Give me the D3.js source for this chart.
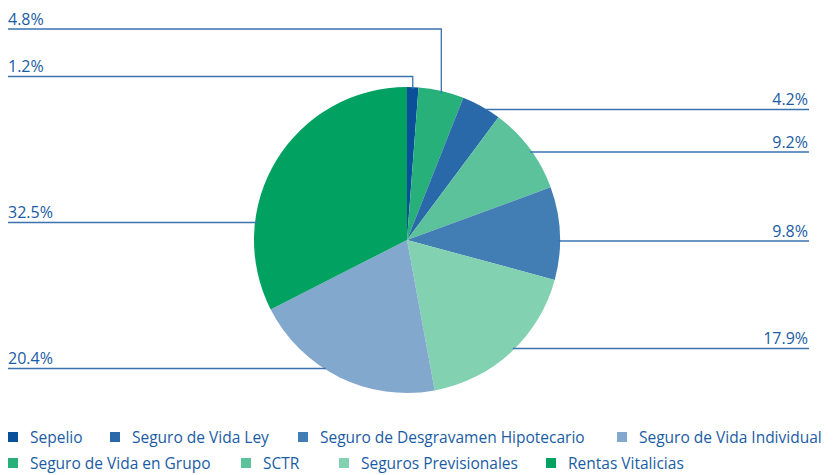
<!DOCTYPE html>
<html>
<head>
<meta charset="utf-8">
<script src="https://cdn.jsdelivr.net/npm/d3@7"></script>
<style>
  body { margin: 0; background: #fff; }
  text { font-family: "Open Sans", "Noto Sans", sans-serif; fill: #1a5ca4; }
</style>
</head>
<body>
<div id="chart"></div>
<script>
// legend order
var categories = ["Sepelio", "Seguro de Vida Ley", "Seguro de Desgravamen Hipotecario",
                  "Seguro de Vida Individual", "Seguro de Vida en Grupo", "SCTR",
                  "Seguros Previsionales", "Rentas Vitalicias"];
var shares = [1.2, 4.2, 9.8, 20.4, 4.8, 9.2, 17.9, 32.5];
var colors = ["#0a4f99", "#2a69a9", "#427db4", "#83a8cd", "#28b07b", "#5bc29b", "#82d1b1", "#00a161"];
// clockwise order of the slices from 12 o'clock
var sliceOrder = ["Sepelio", "Seguro de Vida en Grupo", "Seguro de Vida Ley", "SCTR",
                  "Seguro de Desgravamen Hipotecario", "Seguros Previsionales",
                  "Seguro de Vida Individual", "Rentas Vitalicias"];

// label placement (layout only)
var labelPos = {
  "Sepelio": {side: "top", y: 76.5},
  "Seguro de Vida en Grupo": {side: "top", y: 29},
  "Seguro de Vida Ley": {side: "right", y: 109.5},
  "SCTR": {side: "right", y: 152},
  "Seguro de Desgravamen Hipotecario": {side: "right", y: 241},
  "Seguros Previsionales": {side: "right", y: 348.5},
  "Seguro de Vida Individual": {side: "left", y: 368.5},
  "Rentas Vitalicias": {side: "left", y: 222.5}
};

var width = 834, height = 475,
    cx = 407, cy = 240, r = 153,
    lineLeft = 8, lineRight = 809;

var svg = d3.select("#chart").append("svg")
  .attr("width", width)
  .attr("height", height);

var color = d3.scaleOrdinal().domain(categories).range(colors);
var value = {};
categories.forEach(function (c, i) { value[c] = shares[i]; });

var pie = d3.pie().sort(null).value(function (d) { return value[d]; });
var arcs = pie(sliceOrder);
var arc = d3.arc().innerRadius(0).outerRadius(r);

var g = svg.append("g").attr("transform", "translate(" + cx + "," + cy + ")");
g.selectAll("path")
  .data(arcs)
  .enter()
  .append("path")
  .attr("d", arc)
  .attr("fill", function (d) { return color(d.data); });

var fmt = function (v) { return v.toFixed(1) + "%"; };

// leader lines + labels
var lines = svg.append("g")
  .attr("fill", "none")
  .attr("stroke", "#3a72b0")
  .attr("stroke-width", 1.3);

arcs.forEach(function (d) {
  var p = labelPos[d.data];
  var txt;
  if (p.side == "top") {
    var mid = (d.startAngle + d.endAngle) / 2;
    var x = cx + r * Math.sin(mid);
    var yEdge = cy - r * Math.cos(mid);
    lines.append("path").attr("d", "M" + lineLeft + "," + p.y + "H" + x + "V" + (yEdge + 2));
    txt = svg.append("text").attr("x", lineLeft).attr("text-anchor", "start");
  } else {
    var dx = Math.sqrt(r * r - (p.y - cy) * (p.y - cy));
    if (p.side == "right") {
      lines.append("path").attr("d", "M" + (cx + dx - 2) + "," + p.y + "H" + lineRight);
      txt = svg.append("text").attr("x", lineRight - 1).attr("text-anchor", "end");
    } else {
      lines.append("path").attr("d", "M" + lineLeft + "," + p.y + "H" + (cx - dx + 2));
      txt = svg.append("text").attr("x", lineLeft).attr("text-anchor", "start");
    }
  }
  txt.attr("y", p.y - 4.5)
    .attr("font-size", 16)
    .text(fmt(value[d.data]));
});

// legend, two rows of four
var legend = svg.append("g");
var rowsY = [437, 463];
var rowX = [[8, 110, 298, 617], [8, 241, 339, 546]];
categories.forEach(function (c, i) {
  var row = Math.floor(i / 4), col = i % 4;
  var item = legend.append("g")
    .attr("transform", "translate(" + rowX[row][col] + "," + rowsY[row] + ")");
  item.append("rect")
    .attr("x", 0).attr("y", -5)
    .attr("width", 10).attr("height", 10)
    .attr("fill", color(c));
  item.append("text")
    .attr("x", 22).attr("y", 5.5)
    .attr("font-size", 15.5)
    .text(c);
});
</script>
</body>
</html>
